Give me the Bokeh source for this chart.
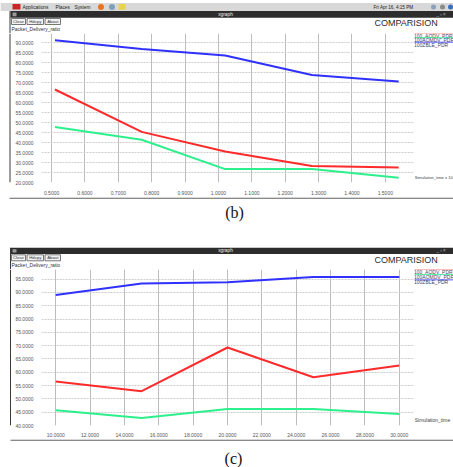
from bokeh.plotting import figure
from bokeh.layouts import column, row
from bokeh.models import Range1d, FixedTicker, NumeralTickFormatter
from bokeh.embed import file_html
from bokeh.resources import INLINE
from bokeh.core.properties import value

# ---------------- data: panel (b) ----------------
b_time = [0.51, 0.77, 1.02, 1.28, 1.54]
b_aodv = [66.5, 45.3, 35.5, 28.3, 27.5]
b_aomdv = [47.7, 41.4, 26.7, 26.7, 22.4]
b_zble = [91.1, 86.8, 83.5, 73.7, 70.5]
b_xticks = [0.5, 0.6, 0.7, 0.8, 0.9, 1.0, 1.1, 1.2, 1.3, 1.4, 1.5]
b_yticks = [20, 25, 30, 35, 40, 45, 50, 55, 60, 65, 70, 75, 80, 85, 90]
b_xrange = (0.4697, 1.5874)
b_yrange = (20.0, 94.5)

# ---------------- data: panel (c) ----------------
c_time = [10, 15, 20, 25, 30]
c_aodv = [56.5, 52.9, 69.3, 58.1, 62.5]
c_aomdv = [45.7, 42.8, 46.2, 46.2, 44.3]
c_zble = [89.0, 93.3, 93.8, 95.8, 95.8]
c_xticks = [10, 12, 14, 16, 18, 20, 22, 24, 26, 28, 30]
c_yticks = [40, 45, 50, 55, 60, 65, 70, 75, 80, 85, 90, 95]
c_xrange = (9.171, 30.886)
c_yrange = (40.0, 98.6)

series_names = ["100_AODV_PDR", "100AOMDV_PDR", "100ZBLE_PDR"]
series_colors = ["#ff2a2a", "#2cf08c", "#3030ff"]
y_title = "Packet_Delivery_ratio"
chart_title = "COMPARISION"
b_xlabel = "Simulation_time x 10"
c_xlabel = "Simulation_time"

# ---------------- geometry helpers ----------------
SX = 1.0
SY = 1.0
SANS = value("Liberation Sans")
SERIF = value("Liberation Serif")


def sx(v):
    return round(v * SX)


def sy(v):
    return round(v * SY)


def fs(px):
    return f"{px * SY:.2f}px"


def px_fig(x0, x1, y0, y1, bg="white"):
    w = sx(x1) - sx(x0)
    h = sy(y1) - sy(y0)
    f = figure(width=w, height=h, x_range=Range1d(x0, x1), y_range=Range1d(y1, y0),
               x_axis_type=None, y_axis_type=None, toolbar_location=None,
               output_backend="svg", min_border=0, outline_line_color=None,
               background_fill_color=bg, border_fill_color=bg)
    return f


def txt(f, x, y, s, size, color="#333333", align="left", font=SANS):
    f.text(x=[x], y=[y], text=[s], text_font_size=fs(size), text_color=color,
           text_align=align, text_baseline="middle", text_font=font)


def box(f, l, r, t, b, fill, line=None):
    f.quad(left=[l], right=[r], top=[t], bottom=[b], fill_color=fill,
           line_color=line, line_width=0.8)


def vline(f, x, y0, y1, color="#3a3a3a", w=1):
    f.segment(x0=[x], y0=[y0], x1=[x], y1=[y1], line_color=color, line_width=w)


def hline(f, y, x0, x1, color="#3a3a3a", w=1):
    f.segment(x0=[x0], y0=[y], x1=[x1], y1=[y], line_color=color, line_width=w)


def window_bar(f, ytop, ybot, left):
    box(f, left, 453, ytop, ybot, "#2d2d2d")
    box(f, left + 2, left + 6, ytop + 1.5, ybot - 1.5, "#9a9a9a")
    txt(f, 225, (ytop + ybot) / 2, "xgraph", 4.8, color="#f0f0f0", align="center")
    txt(f, 436, (ytop + ybot) / 2, "_  \u25ab  \u00d7", 4.5, color="#bbbbbb", align="left")


def buttons(f, ytop, ybot):
    for (l, r, lab) in [(11, 25, "Close"), (26.5, 43, "Hdcpy"), (44.5, 60, "About")]:
        box(f, l, r, ytop, ybot, "#f2f2f2", line="#555555")
        txt(f, (l + r) / 2, (ytop + ybot) / 2, lab, 4.3, color="#333333", align="center")


def data_fig(x0, x1, y0, y1, frame_left, frame_bottom, xr, yr, xticks, yticks,
             standoff, xs, ys_list):
    w = sx(x1) - sx(x0)
    h = sy(y1) - sy(y0)
    mb = h - (sy(frame_bottom) - sy(y0))
    p = figure(width=w, height=h, x_range=Range1d(*xr), y_range=Range1d(*yr),
               toolbar_location=None, output_backend="svg", min_border=0,
               min_border_left=sx(frame_left) - sx(x0), min_border_bottom=mb,
               outline_line_color=None, background_fill_color="white",
               border_fill_color="white")
    p.xaxis.ticker = FixedTicker(ticks=xticks)
    p.yaxis.ticker = FixedTicker(ticks=yticks)
    for ax in (p.xaxis, p.yaxis):
        ax.formatter = NumeralTickFormatter(format="0.0000")
        ax.axis_line_color = None
        ax.major_tick_line_color = None
        ax.minor_tick_line_color = None
        ax.major_label_text_font_size = fs(5)
        ax.major_label_text_color = "#555555"
        ax.major_label_text_font = "Liberation Sans"
    p.xaxis.major_label_standoff = standoff
    p.yaxis.major_label_standoff = 2
    p.xgrid.grid_line_color = "#bdbdbd"
    p.xgrid.grid_line_width = 1
    p.ygrid.grid_line_color = "#cdcdcd"
    p.ygrid.grid_line_dash = "2 1"
    for ys, col in zip(ys_list, series_colors):
        p.line(xs, ys, line_color=col, line_width=2)
    return p


def legend_strip(x0, x1, y0, y1, ys, xlabel, xlabel_y, xlabel_size):
    f = px_fig(x0, x1, y0, y1)
    for name, col, yy in zip(series_names, series_colors, ys):
        hline(f, yy - 2.7, 413, 453, color=col, w=0.8)
        txt(f, 413.5, yy, name, 5, color="#444466")
    txt(f, 414.2, xlabel_y, xlabel, xlabel_size, color="#444444")
    return f


# ---------------- panel (b) ----------------
chrome_b = px_fig(0, 453, 0, 33)
box(chrome_b, 0, 453, 2.5, 10.4, "#d8d8d8")
box(chrome_b, 12, 20, 3.5, 9, "#c62828")
txt(chrome_b, 22, 6.5, "Applications", 4.8, color="#222222")
txt(chrome_b, 55, 6.5, "Places", 4.8, color="#222222")
txt(chrome_b, 74, 6.5, "System", 4.8, color="#222222")
chrome_b.scatter(x=[100.5, 111.5], y=[6.4, 6.4], size=6, fill_color=["#e8731c", "#7f9fb8"],
                 line_color=None)
box(chrome_b, 118, 125, 3.5, 9.3, "#e8d34a")
txt(chrome_b, 373, 6.5, "Fri Apr 16,  4:15 PM", 4.6, color="#222222")
chrome_b.scatter(x=[433, 442, 450], y=[6.4, 6.4, 6.4], size=5,
                 fill_color=["#8aa0b8", "#8a8a8a", "#3a6fc0"], line_color=None)
window_bar(chrome_b, 10.6, 17.3, 10)
vline(chrome_b, 9.5, 10.6, 33)
buttons(chrome_b, 18, 24)
txt(chrome_b, 11, 28.3, y_title, 5, color="#333333")
txt(chrome_b, 374, 22, chart_title, 9, color="#2a2a2a")

left_b = px_fig(0, 12, 33, 197)
vline(left_b, 9.5, 33, 197)
plot_b = data_fig(12, 414, 33, 197, 34, 189, b_xrange, b_yrange, b_xticks, b_yticks, 2,
                  b_time, [b_aodv, b_aomdv, b_zble])
right_b = legend_strip(414, 453, 33, 197, [35.3, 40.3, 45.3], b_xlabel, 191, 4.1)

cap_b = px_fig(0, 453, 197, 238)
hline(cap_b, 197.6, 9, 453)
txt(cap_b, 234, 212, "(b)", 16, color="#111111", align="center", font=SERIF)

# ---------------- panel (c) ----------------
chrome_c = px_fig(0, 453, 238, 269)
window_bar(chrome_c, 247.3, 253.4, 10)
vline(chrome_c, 10, 247.3, 269)
buttons(chrome_c, 254.3, 260.3)
txt(chrome_c, 11, 264.5, y_title, 5, color="#333333")
txt(chrome_c, 374, 259, chart_title, 9, color="#2a2a2a")

left_c = px_fig(0, 12, 269, 439)
vline(left_c, 10, 269, 439)
plot_c = data_fig(12, 414, 269, 439, 34, 432.7, c_xrange, c_yrange, c_xticks, c_yticks, 1,
                  c_time, [c_aodv, c_aomdv, c_zble])
right_c = legend_strip(414, 453, 269, 439, [271.5, 277.2, 283.0], c_xlabel, 433, 5)

cap_c = px_fig(0, 453, 439, 467)
hline(cap_c, 439.6, 10, 453)
txt(cap_c, 233, 457.5, "(c)", 16, color="#111111", align="center", font=SERIF)

layout = column(chrome_b, row(left_b, plot_b, right_b), cap_b,
                chrome_c, row(left_c, plot_c, right_c), cap_c)

open("out.html", "w").write(file_html(layout, INLINE))
